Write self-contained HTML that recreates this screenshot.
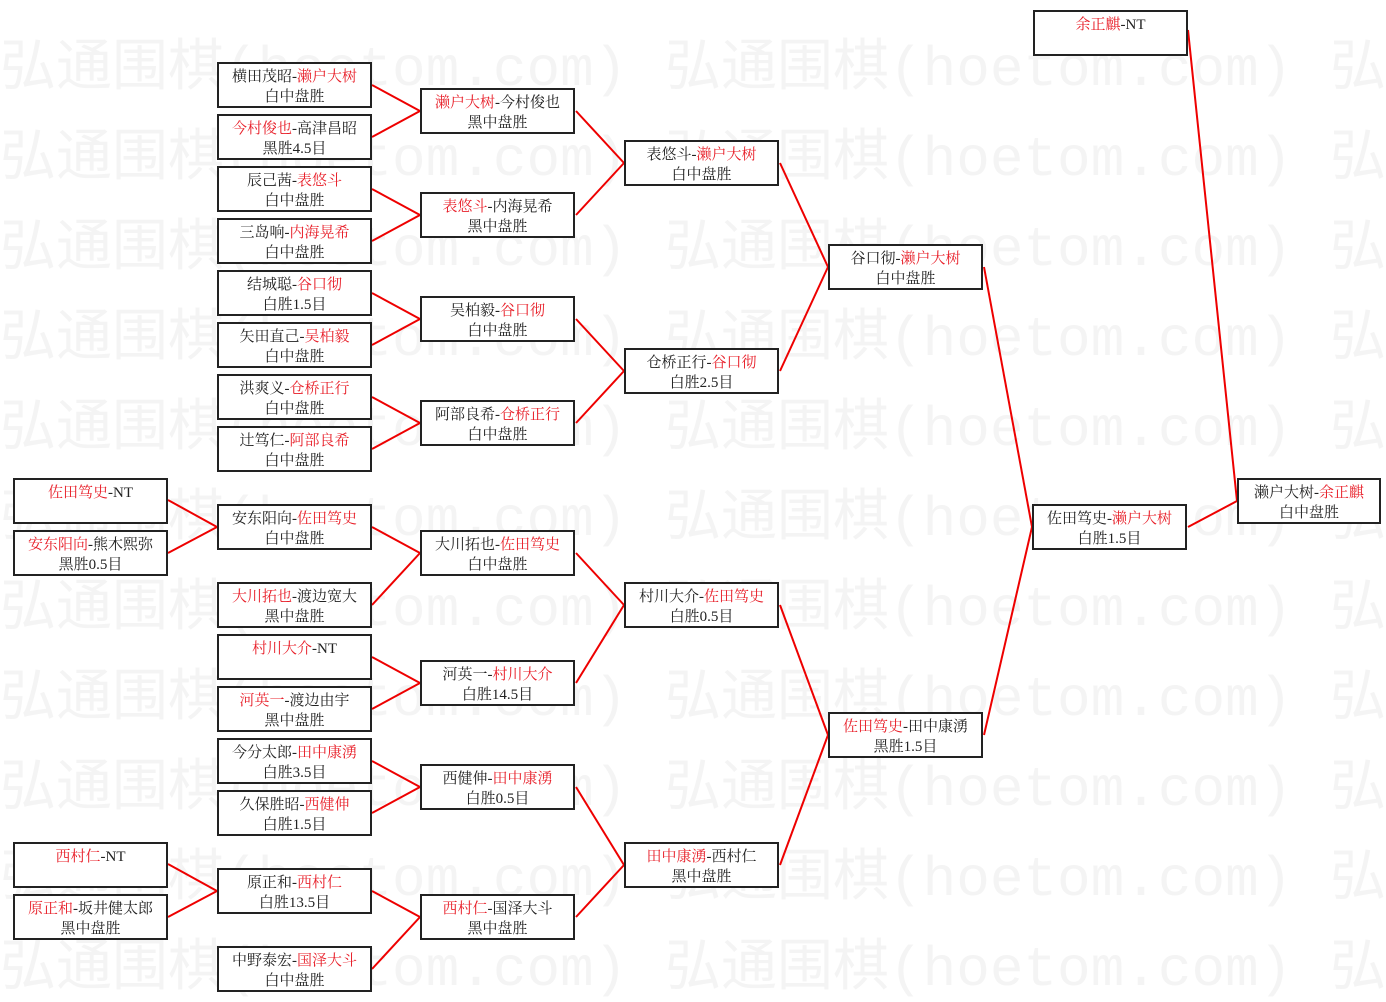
<!DOCTYPE html>
<html><head><meta charset="utf-8"><style>
body{margin:0;width:1386px;height:1001px;background:#fff;position:relative;overflow:hidden;font-family:"Liberation Serif","Noto Serif CJK SC","Noto Sans CJK SC",serif;}
.wm{position:absolute;font-size:56px;line-height:60px;color:#f4f4f4;white-space:nowrap;font-family:"Liberation Mono","Noto Sans CJK SC",monospace;}
.b{position:absolute;width:151px;height:42px;border:2px solid #222;background:#fff;text-align:center;font-size:15px;line-height:20px;color:#222;box-sizing:content-box;}
.b div{margin-top:3px}
.r{color:#e8202a}
svg{position:absolute;left:0;top:0}
</style></head><body>
<div id="wms"></div>
<div class="wm" style="left:0;top:40px">弘通围棋(hoetom.com)</div><div class="wm" style="left:665px;top:40px">弘通围棋(hoetom.com)</div><div class="wm" style="left:1330px;top:40px">弘</div>
<div class="wm" style="left:0;top:130px">弘通围棋(hoetom.com)</div><div class="wm" style="left:665px;top:130px">弘通围棋(hoetom.com)</div><div class="wm" style="left:1330px;top:130px">弘</div>
<div class="wm" style="left:0;top:220px">弘通围棋(hoetom.com)</div><div class="wm" style="left:665px;top:220px">弘通围棋(hoetom.com)</div><div class="wm" style="left:1330px;top:220px">弘</div>
<div class="wm" style="left:0;top:310px">弘通围棋(hoetom.com)</div><div class="wm" style="left:665px;top:310px">弘通围棋(hoetom.com)</div><div class="wm" style="left:1330px;top:310px">弘</div>
<div class="wm" style="left:0;top:400px">弘通围棋(hoetom.com)</div><div class="wm" style="left:665px;top:400px">弘通围棋(hoetom.com)</div><div class="wm" style="left:1330px;top:400px">弘</div>
<div class="wm" style="left:0;top:490px">弘通围棋(hoetom.com)</div><div class="wm" style="left:665px;top:490px">弘通围棋(hoetom.com)</div><div class="wm" style="left:1330px;top:490px">弘</div>
<div class="wm" style="left:0;top:580px">弘通围棋(hoetom.com)</div><div class="wm" style="left:665px;top:580px">弘通围棋(hoetom.com)</div><div class="wm" style="left:1330px;top:580px">弘</div>
<div class="wm" style="left:0;top:670px">弘通围棋(hoetom.com)</div><div class="wm" style="left:665px;top:670px">弘通围棋(hoetom.com)</div><div class="wm" style="left:1330px;top:670px">弘</div>
<div class="wm" style="left:0;top:760px">弘通围棋(hoetom.com)</div><div class="wm" style="left:665px;top:760px">弘通围棋(hoetom.com)</div><div class="wm" style="left:1330px;top:760px">弘</div>
<div class="wm" style="left:0;top:850px">弘通围棋(hoetom.com)</div><div class="wm" style="left:665px;top:850px">弘通围棋(hoetom.com)</div><div class="wm" style="left:1330px;top:850px">弘</div>
<div class="wm" style="left:0;top:940px">弘通围棋(hoetom.com)</div><div class="wm" style="left:665px;top:940px">弘通围棋(hoetom.com)</div><div class="wm" style="left:1330px;top:940px">弘</div>

<svg width="1386" height="1001" stroke="#e00" stroke-width="2">
<line x1="372" y1="85" x2="420" y2="111"/><line x1="372" y1="137" x2="420" y2="111"/>
<line x1="372" y1="189" x2="420" y2="215"/><line x1="372" y1="241" x2="420" y2="215"/>
<line x1="372" y1="293" x2="420" y2="319"/><line x1="372" y1="345" x2="420" y2="319"/>
<line x1="372" y1="397" x2="420" y2="423"/><line x1="372" y1="449" x2="420" y2="423"/>
<line x1="168" y1="500" x2="217" y2="527"/><line x1="168" y1="553" x2="217" y2="527"/>
<line x1="168" y1="864" x2="217" y2="891"/><line x1="168" y1="917" x2="217" y2="891"/>
<line x1="372" y1="527" x2="420" y2="553"/><line x1="372" y1="605" x2="420" y2="553"/>
<line x1="372" y1="657" x2="420" y2="683"/><line x1="372" y1="709" x2="420" y2="683"/>
<line x1="372" y1="761" x2="420" y2="787"/><line x1="372" y1="813" x2="420" y2="787"/>
<line x1="372" y1="891" x2="420" y2="917"/><line x1="372" y1="969" x2="420" y2="917"/>
<line x1="576" y1="111" x2="624" y2="163"/><line x1="576" y1="215" x2="624" y2="163"/>
<line x1="576" y1="319" x2="624" y2="371"/><line x1="576" y1="423" x2="624" y2="371"/>
<line x1="576" y1="553" x2="624" y2="605"/><line x1="576" y1="683" x2="624" y2="605"/>
<line x1="576" y1="787" x2="624" y2="865"/><line x1="576" y1="917" x2="624" y2="865"/>
<line x1="780" y1="163" x2="828" y2="267"/><line x1="780" y1="371" x2="828" y2="267"/>
<line x1="780" y1="605" x2="828" y2="735"/><line x1="780" y1="865" x2="828" y2="735"/>
<line x1="984" y1="267" x2="1032" y2="527"/><line x1="984" y1="735" x2="1032" y2="527"/>
<line x1="1188" y1="527" x2="1237" y2="501"/><line x1="1188" y1="30" x2="1237" y2="501"/>
</svg>

<div class="b" style="left:13px;top:478px"><div><span class="r">佐田笃史</span>-NT</div></div>
<div class="b" style="left:13px;top:530px"><div><span class="r">安东阳向</span>-熊木熙弥<br>黑胜0.5目</div></div>
<div class="b" style="left:13px;top:842px"><div><span class="r">西村仁</span>-NT</div></div>
<div class="b" style="left:13px;top:894px"><div><span class="r">原正和</span>-坂井健太郎<br>黑中盘胜</div></div>
<div class="b" style="left:217px;top:62px"><div>横田茂昭-<span class="r">濑户大树</span><br>白中盘胜</div></div>
<div class="b" style="left:217px;top:114px"><div><span class="r">今村俊也</span>-高津昌昭<br>黑胜4.5目</div></div>
<div class="b" style="left:217px;top:166px"><div>辰己茜-<span class="r">表悠斗</span><br>白中盘胜</div></div>
<div class="b" style="left:217px;top:218px"><div>三岛响-<span class="r">内海晃希</span><br>白中盘胜</div></div>
<div class="b" style="left:217px;top:270px"><div>结城聪-<span class="r">谷口彻</span><br>白胜1.5目</div></div>
<div class="b" style="left:217px;top:322px"><div>矢田直己-<span class="r">吴柏毅</span><br>白中盘胜</div></div>
<div class="b" style="left:217px;top:374px"><div>洪爽义-<span class="r">仓桥正行</span><br>白中盘胜</div></div>
<div class="b" style="left:217px;top:426px"><div>辻笃仁-<span class="r">阿部良希</span><br>白中盘胜</div></div>
<div class="b" style="left:217px;top:504px"><div>安东阳向-<span class="r">佐田笃史</span><br>白中盘胜</div></div>
<div class="b" style="left:217px;top:582px"><div><span class="r">大川拓也</span>-渡边宽大<br>黑中盘胜</div></div>
<div class="b" style="left:217px;top:634px"><div><span class="r">村川大介</span>-NT</div></div>
<div class="b" style="left:217px;top:686px"><div><span class="r">河英一</span>-渡边由宇<br>黑中盘胜</div></div>
<div class="b" style="left:217px;top:738px"><div>今分太郎-<span class="r">田中康湧</span><br>白胜3.5目</div></div>
<div class="b" style="left:217px;top:790px"><div>久保胜昭-<span class="r">西健伸</span><br>白胜1.5目</div></div>
<div class="b" style="left:217px;top:868px"><div>原正和-<span class="r">西村仁</span><br>白胜13.5目</div></div>
<div class="b" style="left:217px;top:946px"><div>中野泰宏-<span class="r">国泽大斗</span><br>白中盘胜</div></div>
<div class="b" style="left:420px;top:88px"><div><span class="r">濑户大树</span>-今村俊也<br>黑中盘胜</div></div>
<div class="b" style="left:420px;top:192px"><div><span class="r">表悠斗</span>-内海晃希<br>黑中盘胜</div></div>
<div class="b" style="left:420px;top:296px"><div>吴柏毅-<span class="r">谷口彻</span><br>白中盘胜</div></div>
<div class="b" style="left:420px;top:400px"><div>阿部良希-<span class="r">仓桥正行</span><br>白中盘胜</div></div>
<div class="b" style="left:420px;top:530px"><div>大川拓也-<span class="r">佐田笃史</span><br>白中盘胜</div></div>
<div class="b" style="left:420px;top:660px"><div>河英一-<span class="r">村川大介</span><br>白胜14.5目</div></div>
<div class="b" style="left:420px;top:764px"><div>西健伸-<span class="r">田中康湧</span><br>白胜0.5目</div></div>
<div class="b" style="left:420px;top:894px"><div><span class="r">西村仁</span>-国泽大斗<br>黑中盘胜</div></div>
<div class="b" style="left:624px;top:140px"><div>表悠斗-<span class="r">濑户大树</span><br>白中盘胜</div></div>
<div class="b" style="left:624px;top:348px"><div>仓桥正行-<span class="r">谷口彻</span><br>白胜2.5目</div></div>
<div class="b" style="left:624px;top:582px"><div>村川大介-<span class="r">佐田笃史</span><br>白胜0.5目</div></div>
<div class="b" style="left:624px;top:842px"><div><span class="r">田中康湧</span>-西村仁<br>黑中盘胜</div></div>
<div class="b" style="left:828px;top:244px"><div>谷口彻-<span class="r">濑户大树</span><br>白中盘胜</div></div>
<div class="b" style="left:828px;top:712px"><div><span class="r">佐田笃史</span>-田中康湧<br>黑胜1.5目</div></div>
<div class="b" style="left:1032px;top:504px"><div>佐田笃史-<span class="r">濑户大树</span><br>白胜1.5目</div></div>
<div class="b" style="left:1033px;top:10px"><div><span class="r">余正麒</span>-NT</div></div>
<div class="b" style="left:1237px;top:478px;width:140px"><div>濑户大树-<span class="r">余正麒</span><br>白中盘胜</div></div>
</body></html>
